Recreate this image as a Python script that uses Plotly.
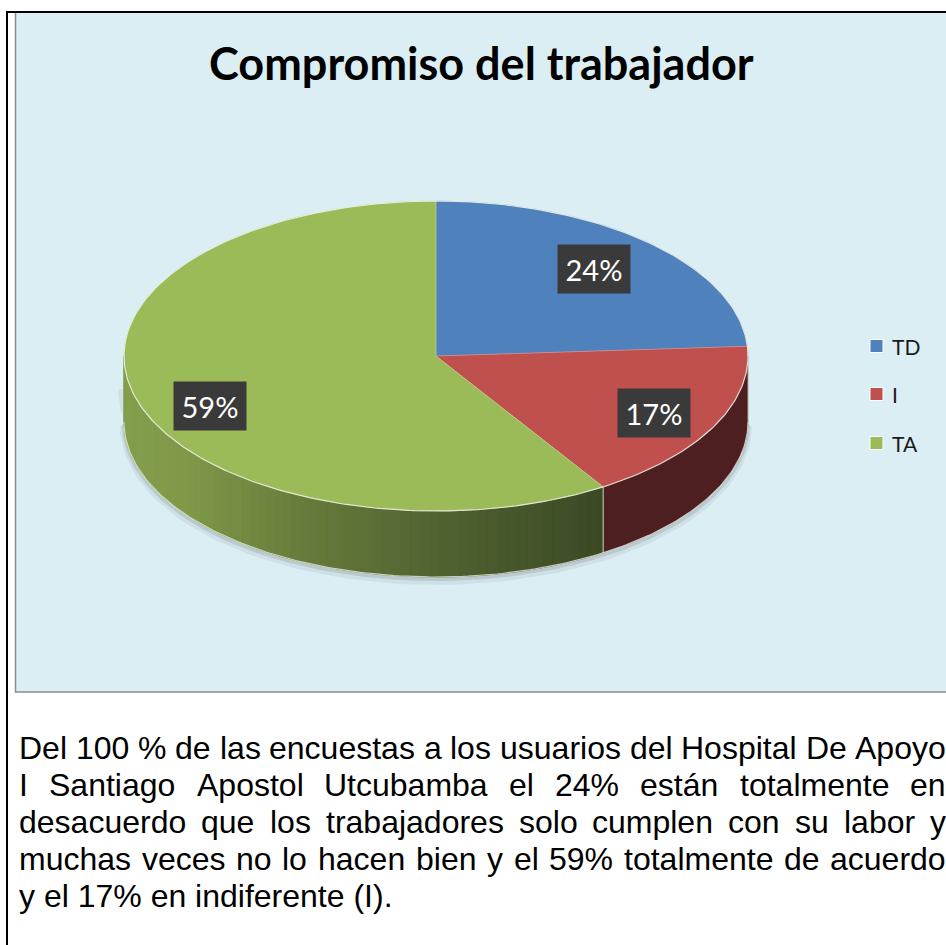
import numpy as np
import plotly.graph_objects as go

# ---------------- data ----------------
title = "Compromiso del trabajador"
labels = ["TD", "I", "TA"]
values = [24, 17, 59]
top_colors = ["#4F81BD", "#C0504D", "#9BBB59"]
label_texts = ["24%", "17%", "59%"]
paragraph_lines = [
    "Del 100 % de las encuestas a los usuarios del Hospital De Apoyo",
    "I Santiago Apostol Utcubamba el 24% están totalmente en",
    "desacuerdo que los trabajadores solo cumplen con su labor y",
    "muchas veces no lo hacen bien y el 59% totalmente de acuerdo",
    "y el 17% en indiferente (I).",
]

# ---------------- geometry (pixel space) ----------------
W, H = 946, 945
cx, cy, rx, ry, depth = 436, 356, 312, 155, 66


def pt(theta_deg, dy=0.0):
    t = np.radians(theta_deg)
    return cx + rx * np.sin(t), cy - ry * np.cos(t) + dy


fig = go.Figure()


def poly(xs, ys, fill, line_color=None, lw=0.0):
    fig.add_trace(go.Scatter(
        x=list(xs), y=list(ys), mode="lines", fill="toself", fillcolor=fill,
        line=dict(color=line_color or fill, width=lw), hoverinfo="skip",
        showlegend=False))


def line(xs, ys, color, lw):
    fig.add_trace(go.Scatter(x=list(xs), y=list(ys), mode="lines",
                             line=dict(color=color, width=lw), hoverinfo="skip",
                             showlegend=False))


total = sum(values)
bounds = np.concatenate([[0], np.cumsum(values)]) / total * 360.0

# shadow below the side
th = np.linspace(90, 270, 200)
sx, sy = pt(th, depth)
line(sx, sy + 4, "rgba(0,0,0,0.06)", 8)
line(sx, sy + 2, "rgba(0,0,0,0.10)", 4)
lx, ly = pt(np.linspace(200, 270, 80), depth / 2)
line(lx - 3, ly, "rgba(0,0,0,0.05)", 6)


def hex2rgb(h):
    h = h.lstrip("#")
    return np.array([int(h[i:i + 2], 16) for i in (0, 2, 4)], float)


green_stops_x = [124, 185, 300, 450, 605]
green_stops_c = [hex2rgb(c) for c in ["#839E4C", "#7F9949", "#677C3B", "#4F6031", "#3B4923"]]


def green_at(x):
    c = np.array([np.interp(x, green_stops_x, [s[k] for s in green_stops_c]) for k in range(3)])
    return "rgb(%d,%d,%d)" % tuple(np.round(c))


side_flat = {1: "#4E1F20"}

# side faces (front half only)
for i in range(len(values)):
    a0, a1 = bounds[i], bounds[i + 1]
    s0, s1 = max(a0, 90), min(a1, 270)
    if s1 <= s0:
        continue
    if i == 2:
        edges = np.linspace(s0, s1, 70)
        for e0, e1 in zip(edges[:-1], edges[1:]):
            tt = np.linspace(e0, e1, 4)
            tx, ty = pt(tt)
            bx, by = pt(tt[::-1], depth)
            col = green_at(pt((e0 + e1) / 2)[0])
            poly(np.r_[tx, bx, tx[0]], np.r_[ty, by, ty[0]], col, col, 1)
    else:
        tt = np.linspace(s0, s1, 80)
        tx, ty = pt(tt)
        bx, by = pt(tt[::-1], depth)
        col = side_flat.get(i, "#333")
        poly(np.r_[tx, bx, tx[0]], np.r_[ty, by, ty[0]], col, col, 0.5)

# light edges on side
bx, by = pt(np.linspace(90, 270, 200), depth)
line(bx, by, "rgba(235,240,230,0.75)", 1.2)
vx, vy = pt(bounds[2])
line([vx, vx], [vy, vy + depth], "rgba(235,240,230,0.8)", 1)
rx0, ry0 = pt(90)
line([rx0, rx0], [ry0, ry0 + depth], "rgba(235,240,230,0.6)", 1)

# top faces
for i in range(len(values)):
    tt = np.linspace(bounds[i], bounds[i + 1], 120)
    tx, ty = pt(tt)
    poly(np.r_[cx, tx, cx], np.r_[cy, ty, cy], top_colors[i], top_colors[i], 0.5)

# rim highlight
ex, ey = pt(np.linspace(0, 360, 400))
line(ex, ey, "rgba(240,242,235,0.85)", 1.2)
for b in bounds[:-1]:
    px_, py_ = pt(b)
    line([cx, px_], [cy, py_], "rgba(255,255,255,0.35)", 0.8)

# ---------------- annotations ----------------
ann = []
shapes = []

# outer chart area + borders
shapes.append(dict(type="rect", xref="x", yref="y", x0=15.5, x1=960, y0=12, y1=692,
                   fillcolor="#DBEEF4", line=dict(color="#8C8C8C", width=1.5), layer="below"))
shapes.append(dict(type="line", xref="x", yref="y", x0=7, x1=7, y0=11, y1=960,
                   line=dict(color="black", width=2)))
shapes.append(dict(type="line", xref="x", yref="y", x0=6, x1=960, y0=12, y1=12,
                   line=dict(color="black", width=2)))

ann.append(dict(x=481, y=63, xref="x", yref="y", text="<b>%s</b>" % title, showarrow=False,
                font=dict(family="Lato", size=45, color="black"), xanchor="center", yanchor="middle"))

# data labels
label_pos = [(594, 269), (654, 413), (210, 406)]
for t, (lx_, ly_) in zip(label_texts, label_pos):
    ann.append(dict(x=lx_, y=ly_, xref="x", yref="y", text=t, showarrow=False,
                    font=dict(family="Lato", size=29, color="white"),
                    bgcolor="#3A3A3A", width=72, height=48, borderpad=0,
                    xanchor="center", yanchor="middle", align="center", valign="middle"))

# legend
leg_y = [346, 394, 443]
for lab, col, yy in zip(labels, top_colors, leg_y):
    shapes.append(dict(type="rect", xref="x", yref="y", x0=870, x1=883, y0=yy - 6.5, y1=yy + 6.5,
                       fillcolor=col, line=dict(color="white", width=1)))
    ann.append(dict(x=890, y=yy, xref="x", yref="y", text=lab, showarrow=False,
                    font=dict(family="Lato", size=21, color="#1A1A1A"), xanchor="left", yanchor="middle"))

# paragraph (justified)
AW = {" ": 278, "a": 556, "b": 556, "c": 500, "d": 556, "e": 556, "f": 278, "g": 556, "h": 556,
      "i": 222, "j": 222, "k": 500, "l": 222, "m": 833, "n": 556, "o": 556, "p": 556, "q": 556,
      "r": 333, "s": 500, "t": 278, "u": 556, "v": 500, "w": 722, "x": 500, "y": 500, "z": 500,
      "á": 556, "A": 667, "D": 722, "H": 722, "I": 278, "S": 667, "U": 722, "%": 889,
      "(": 333, ")": 333, ".": 278}
fs = 32
left, right = 18, 945


def tw(s):
    return sum(AW.get(c, 556) for c in s) * fs / 1000.0


for k, ln in enumerate(paragraph_lines):
    yy = 748 + 37 * k
    font = dict(family="Liberation Sans, Arial", size=fs, color="black")
    if k == len(paragraph_lines) - 1:
        ann.append(dict(x=left, y=yy, xref="x", yref="y", text=ln, showarrow=False, font=font,
                        xanchor="left", yanchor="middle", xshift=-1))
        continue
    words = ln.split(" ")
    widths = [tw(w) for w in words]
    gap = (right - left - sum(widths)) / (len(words) - 1)
    x = left
    for w, wd in zip(words, widths):
        ann.append(dict(x=x, y=yy, xref="x", yref="y", text=w, showarrow=False, font=font,
                        xanchor="left", yanchor="middle", xshift=-1))
        x += wd + gap

fig.update_layout(
    width=W, height=H, margin=dict(l=0, r=0, t=0, b=0),
    paper_bgcolor="white", plot_bgcolor="white",
    xaxis=dict(range=[0, W], visible=False, fixedrange=True),
    yaxis=dict(range=[H, 0], visible=False, fixedrange=True),
    annotations=ann, shapes=shapes, showlegend=False,
)
fig.write_html("out.html", config={"displayModeBar": False},
               post_script="document.body.style.margin='0px';document.body.style.overflow='hidden';")
